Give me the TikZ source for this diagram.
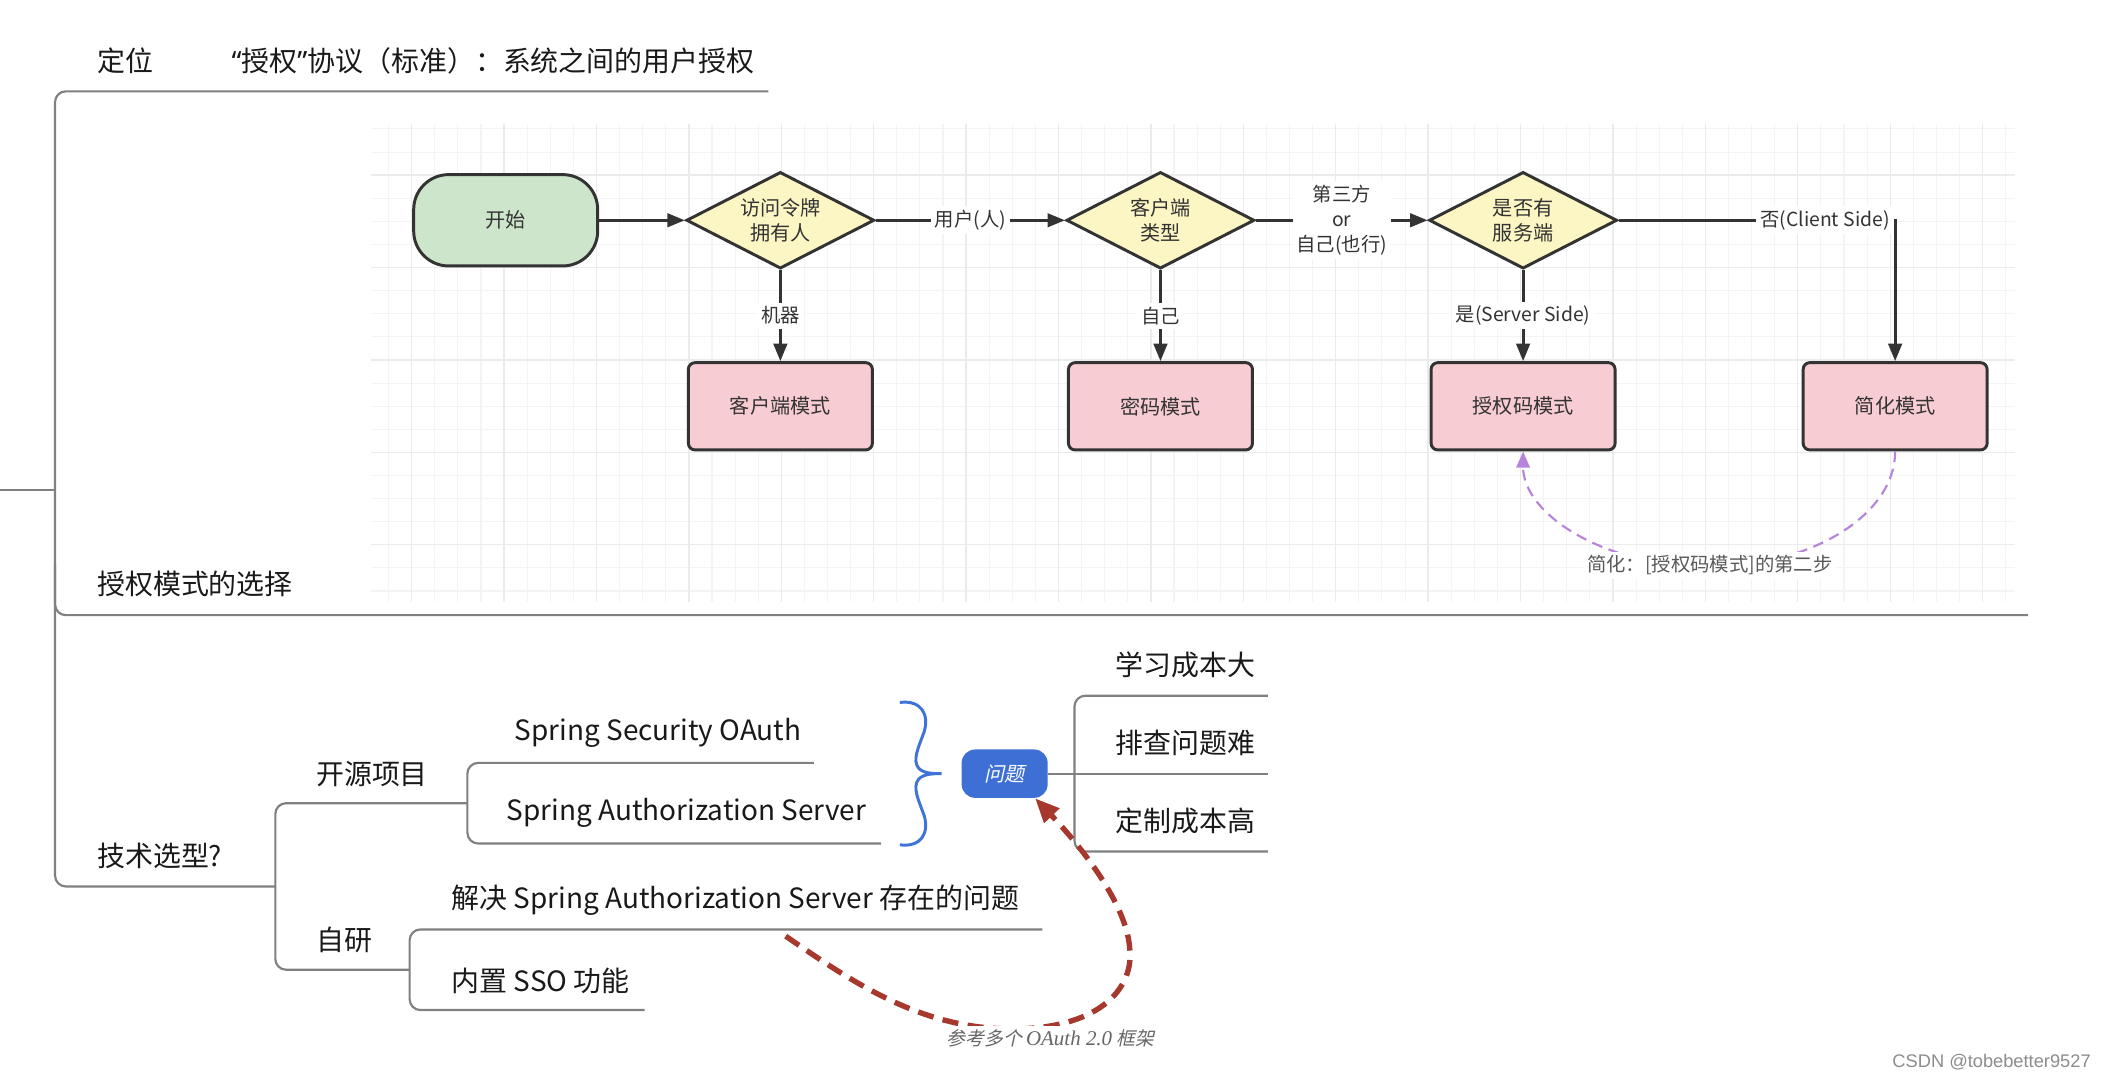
\documentclass[tikz,border=0pt]{standalone}
\usepackage{fontspec}
\setmainfont{Noto Sans CJK SC}
\newfontfamily\cjkit[FakeSlant=0.22]{Noto Sans CJK SC}
\newfontfamily\serit{Liberation Serif}
\newfontfamily\wmfont{Liberation Sans}
\newfontfamily\latq{Noto Sans}
\usetikzlibrary{arrows.meta,shapes.geometric}
\definecolor{fcborder}{HTML}{333333}
\definecolor{fcgreen}{HTML}{CDE5CB}
\definecolor{fcyellow}{HTML}{FCF6C4}
\definecolor{fcpink}{HTML}{F7CCD2}
\definecolor{mmgray}{HTML}{808080}
\definecolor{qblue}{HTML}{3D6FD5}
\definecolor{brblue}{HTML}{3F73D8}
\definecolor{rdash}{HTML}{A6382D}
\definecolor{purp}{HTML}{B784DC}
\definecolor{gridmin}{HTML}{F4F4F4}
\definecolor{gridmaj}{HTML}{EBEBEB}
\newcommand\mmfont{\fontsize{10.4pt}{12pt}\selectfont}
\newcommand\fcfont{\fontsize{7.5pt}{9.5pt}\selectfont}
\newcommand\lbfont{\fontsize{7.2pt}{9.2pt}\selectfont}
\tikzset{
  mmtext/.style={anchor=west, inner sep=0pt, font=\mmfont, text=black!90},
  mmline/.style={draw=mmgray, line width=0.8pt, rounded corners=4pt},
  gminor/.style={draw=gridmin, line width=0.4pt},
  gmajor/.style={draw=gridmaj, line width=0.5pt},
  fcstart/.style={draw=fcborder, fill=fcgreen, line width=1.1pt, rounded corners=13pt,
    minimum width=68.5pt, minimum height=34pt, font=\fcfont, text=fcborder},
  fcdiam/.style={diamond, draw=fcborder, fill=fcyellow, line width=1.1pt, shape aspect=2,
    minimum width=70pt, minimum height=36pt, inner sep=0pt, align=center, font=\fcfont, text=fcborder},
  fcbox/.style={draw=fcborder, fill=fcpink, line width=1.1pt, rounded corners=2.5pt,
    minimum width=68.5pt, minimum height=32.5pt, font=\fcfont, text=fcborder},
  fcarrow/.style={draw=fcborder, line width=1.1pt, -{Triangle[length=6.5pt,width=5pt]}},
  fclabel/.style={fill=white, inner sep=1.5pt, font=\lbfont, text=fcborder, align=center},
  qnode/.style={fill=qblue, rounded corners=5pt, minimum width=32pt, minimum height=18pt,
    inner sep=0pt, text=white, font=\cjkit\fontsize{7.5pt}{9pt}\selectfont},
}
\begin{document}
\begin{tikzpicture}[x=0.5pt,y=-0.5pt]
\useasboundingbox (0,0) rectangle (1568,804);
% grid background
\begin{scope}
\clip (276,92) rectangle (1500,448);
\foreach \k in {-2,...,69} \draw[gminor] ({306.5+\k*17.2},92) -- ({306.5+\k*17.2},448);
\foreach \k in {-3,...,18} \draw[gminor] (276,{130.4+\k*17.2}) -- (1500,{130.4+\k*17.2});
\foreach \k in {0,4,...,68} \draw[gmajor] ({306.5+\k*17.2},92) -- ({306.5+\k*17.2},448);
\foreach \k in {0,4,...,16} \draw[gmajor] (276,{130.4+\k*17.2}) -- (1500,{130.4+\k*17.2});
\end{scope}
% mind map lines
\draw[mmline] (0,365) -- (41,365);
\draw[mmline] (572,68) -- (41,68) -- (41,660) -- (205,660);
\draw[mmline] (41,420) -- (41,458) -- (1510,458);
\draw[mmline] (348,598) -- (205,598) -- (205,722) -- (305,722);
\draw[mmline] (606,568) -- (348,568) -- (348,628) -- (656,628);
\draw[mmline] (776,692) -- (305,692) -- (305,752) -- (480,752);
\draw[mmline] (944,518) -- (800,518) -- (800,634) -- (944,634);
\draw[mmline] (780,576) -- (944,576);
% mind map texts
\node[mmtext] (dw) at (72,45) {定位};
\node[mmtext] (dwc) at (172,45) {{\latq “}授权{\latq ”}协议（标准）：系统之间的用户授权};
\node[mmtext] (sq) at (72,435) {授权模式的选择};
\node[mmtext] (js) at (72,637) {技术选型?};
\node[mmtext] (ky) at (235,576) {开源项目};
\node[mmtext] (zy) at (235,700) {自研};
\node[mmtext] (sso) at (383,546) {Spring Security OAuth};
\node[mmtext] (sas) at (377,605) {Spring Authorization Server};
\node[mmtext] (jj) at (336,670) {解决 Spring Authorization Server 存在的问题};
\node[mmtext] (nz) at (336,730) {内置 SSO 功能};
\node[mmtext] (xx) at (830,495) {学习成本大};
\node[mmtext] (pc) at (830,553) {排查问题难};
\node[mmtext] (dz) at (830,611) {定制成本高};
\node[qnode] (q) at (748,576) {问题};
% brace
\draw[brblue, line width=1.1pt] (670,523) .. controls (686,521) and (692,532) .. (688,545)
  .. controls (684,556) and (679,566) .. (684,572) .. controls (688,576) and (695,576) .. (701,576)
  .. controls (695,576) and (688,576) .. (684,580) .. controls (679,586) and (684,596) .. (688,607)
  .. controls (692,620) and (686,631) .. (670,629);
% red dashed arrow
\coordinate (rstart) at (585,697);
\draw[rdash, line width=2pt, dash pattern=on 6pt off 3.5pt, -{Triangle[length=9pt,width=7.5pt]}]
  (rstart) .. controls (640,735) and (690,768) .. (760,766)
  .. controls (820,764) and (845,735) .. (841,705)
  .. controls (838,670) and (800,625) .. (q.-39);
\node[fill=white, inner sep=1.5pt, text=black!60] (ref) at (782,773)
  {\cjkit\fontsize{7pt}{8pt}\selectfont 参考多个 {\serit\itshape\fontsize{7.8pt}{8pt}\selectfont OAuth 2.0} 框架};
% flowchart
\node[fcstart] (start) at (376.5,164) {开始};
\node[fcdiam] (d1) at (581,164) {访问令牌\\拥有人};
\node[fcdiam] (d2) at (864,164) {客户端\\类型};
\node[fcdiam] (d3) at (1134,164) {是否有\\服务端};
\node[fcbox] (b1) at (581,302.5) {客户端模式};
\node[fcbox] (b2) at (864,302.5) {密码模式};
\node[fcbox] (b3) at (1134,302.5) {授权码模式};
\node[fcbox] (b4) at (1411,302.5) {简化模式};
\draw[fcarrow] (start) -- (d1);
\draw[fcarrow] (d1) -- node[fclabel] {用户(人)} (d2);
\draw[fcarrow] (d2) -- node[fclabel] {第三方\\or\\自己(也行)} (d3);
\draw[fcarrow] (d1) -- node[fclabel] {机器} (b1);
\draw[fcarrow] (d2) -- node[fclabel] {自己} (b2);
\draw[fcarrow] (d3) -- node[fclabel] {是(Server Side)} (b3);
\draw[fcarrow] (d3.east) -| node[pos=0.5, anchor=east, fclabel] {否(Client Side)} (b4.north);
\draw[purp, line width=0.8pt, dash pattern=on 4pt off 2.5pt, -{Triangle[length=6pt,width=5pt]}]
  (b4.south) .. controls +(0,47) and +(77,0) .. (1272,422)
  .. controls +(-77,0) and +(0,47) .. (b3.south);
\node[fclabel, text=black!65] (plab) at (1273,421) {简化：[授权码模式]的第二步};
% watermark
\node[anchor=east, inner sep=0pt, text=black!45, font=\wmfont\fontsize{6.8pt}{8pt}\selectfont] (wm) at (1557,791) {CSDN @tobebetter9527};
\end{tikzpicture}
\end{document}
